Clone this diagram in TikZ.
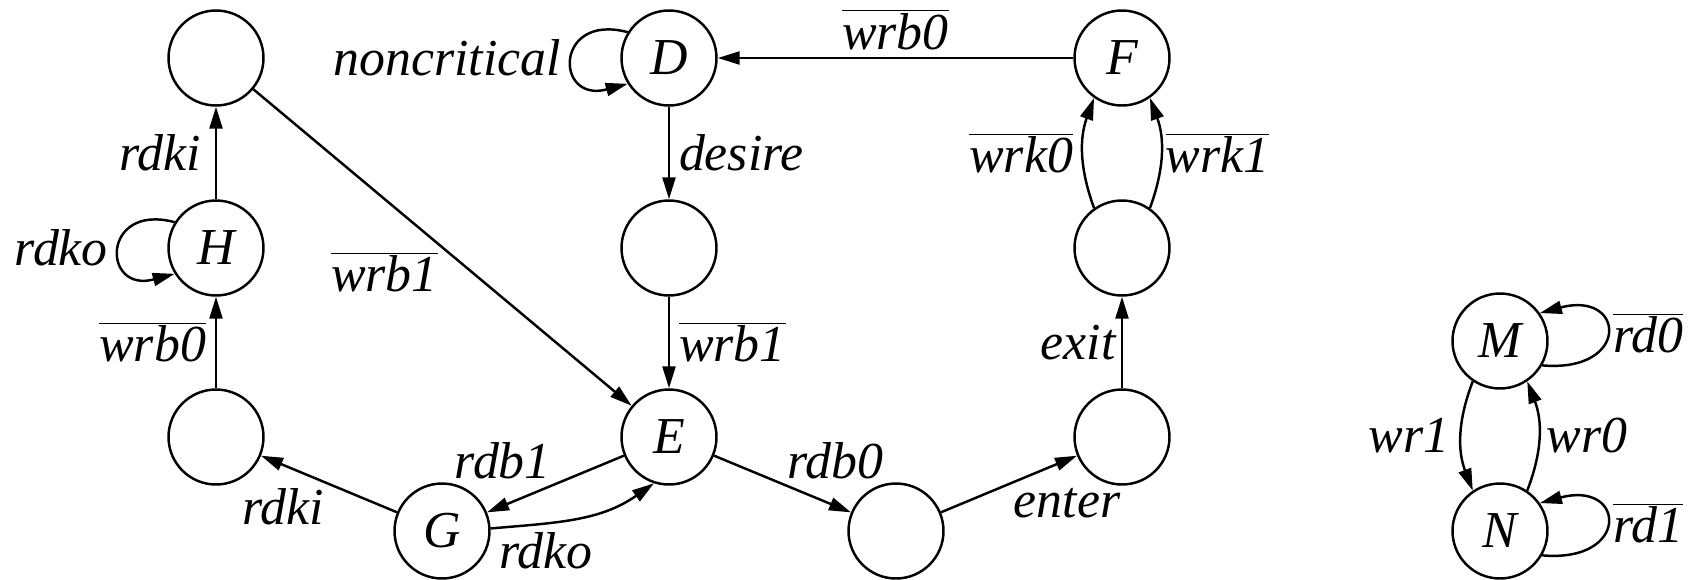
\documentclass[tikz,border=0pt]{standalone}
\usepackage{fontspec}
\setmainfont{Liberation Serif}
\usetikzlibrary{arrows.meta}
\newcommand{\ob}[1]{$\overline{\mbox{#1}}$}
\begin{document}
\begin{tikzpicture}[x=0.02cm,y=0.02cm,
  st/.style={circle, draw, line width=1.4pt, minimum size=1.9cm, inner sep=0pt,
    font=\fontsize{29.5}{34}\selectfont\itshape},
  lb/.style={inner sep=2pt, font=\fontsize{29.5}{34}\selectfont\itshape},
  ed/.style={line width=1.4pt, -{Triangle[length=0.44cm,width=0.26cm]}}]
\useasboundingbox (0,0) rectangle (1695,-579);
\node[st] (A) at (216,-58) {};
\node[st] (D) at (669,-58) {D};
\node[st] (F) at (1122,-58) {F};
\node[st] (H) at (216,-248) {H};
\node[st] (B) at (669,-248) {};
\node[st] (K) at (1122,-248) {};
\node[st] (C) at (216,-437) {};
\node[st] (E) at (669,-437) {E};
\node[st] (J) at (1122,-437) {};
\node[st] (G) at (442,-531) {G};
\node[st] (I) at (896,-531) {};
\node[st] (M) at (1500,-341) {M};
\node[st] (N) at (1500,-531) {N};

\draw[ed] (H) -- node[lb,left=6pt] {rdki} (A);
\draw[ed] (H.148) to[out=165,in=195,distance=1.52cm] node[lb,left=4pt] {rdko} (H.212);
\draw[ed] (C) -- node[lb,left=3pt] {\ob{wrb0}} (H);
\draw[ed] (A) -- node[lb,pos=.5,anchor=north east] {\ob{wrb1}} (E);
\draw[ed] (D.148) to[out=165,in=195,distance=1.52cm] node[lb,left=4pt] {noncritical} (D.212);
\draw[ed] (D) -- node[lb,right=3pt] {desire} (B);
\draw[ed] (B) -- node[lb,right=3pt] {\ob{wrb1}} (E);
\draw[ed] (F) -- node[lb,above=2pt] {\ob{wrb0}} (D);
\draw[ed] (K.125) to[out=110,in=250] node[lb,left=3pt] {\ob{wrk0}} (F.235);
\draw[ed] (K.55) to[out=70,in=-70] node[lb,right=0pt] {\ob{wrk1}} (F.-55);
\draw[ed] (J) -- node[lb,left=1pt] {exit} (K);
\draw[ed] (I) -- node[lb,anchor=north west] {enter} (J);
\draw[ed] (E) -- node[lb,anchor=south west] {rdb0} (I);
\draw[ed] (E) -- node[lb,anchor=south east] {rdb1} (G);
\draw[ed] (G.3) to[out=5,in=215] node[lb,pos=0.02,anchor=north west] {rdko} (E.252);
\draw[ed] (G) -- node[lb,anchor=north east] {rdki} (C);
\draw[ed] (M.-30) to[out=-5,in=15,distance=1.78cm] node[lb,right=1pt] {\ob{rd0}} (M.35);
\draw[ed] (N.-30) to[out=-5,in=15,distance=1.78cm] node[lb,right=1pt] {\ob{rd1}} (N.35);
\draw[ed] (M.236) to[out=249,in=111] node[lb,left=4pt] {wr1} (N.124);
\draw[ed] (N.56) to[out=69,in=-69] node[lb,right=2pt] {wr0} (M.-56);
\end{tikzpicture}
\end{document}
